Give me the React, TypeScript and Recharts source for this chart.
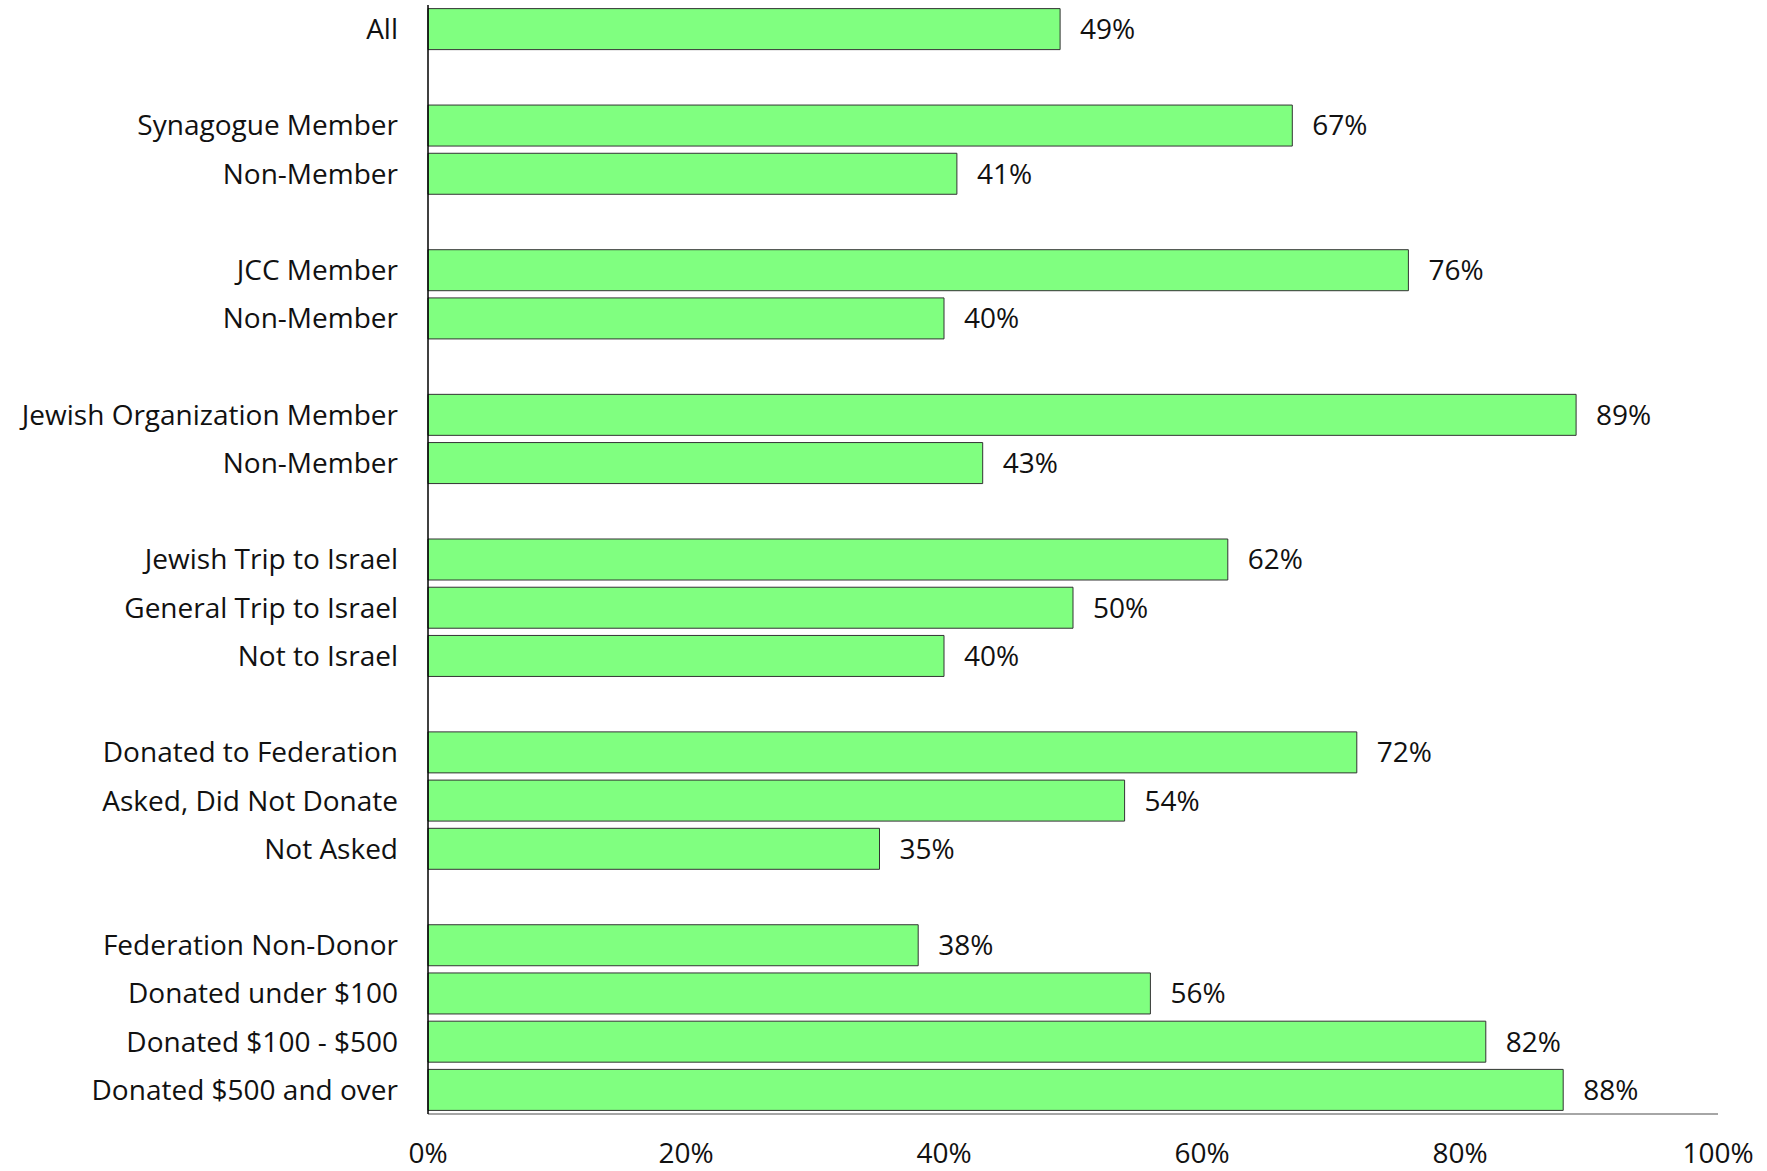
import { Bar, BarChart, LabelList, XAxis, YAxis } from "recharts";

const WIDTH = 1767;
const HEIGHT = 1171;
const BAR_FILL = "#80ff80";
const FONT = "'Open Sans', sans-serif";
const FONT_SIZE = 28;

// empty strings are spacer rows between groups
const categories = [
  "All",
  "",
  "Synagogue Member",
  "Non-Member",
  "",
  "JCC Member",
  "Non-Member",
  "",
  "Jewish Organization Member",
  "Non-Member",
  "",
  "Jewish Trip to Israel",
  "General Trip to Israel",
  "Not to Israel",
  "",
  "Donated to Federation",
  "Asked, Did Not Donate",
  "Not Asked",
  "",
  "Federation Non-Donor",
  "Donated under $100",
  "Donated $100 - $500",
  "Donated $500 and over",
];

const values: (number | null)[] = [
  49, null, 67, 41, null, 76, 40, null, 89, 43, null, 62, 50, 40, null, 72, 54, 35, null, 38, 56, 82, 88,
];

const xTicks = [0, 20, 40, 60, 80, 100];

const data = categories.map((label, i) => ({
  key: `row${i}`,
  label,
  value: values[i],
}));

export default function App() {
  return (
    <div style={{ position: "absolute", left: 0, top: 0, width: WIDTH, height: HEIGHT, background: "#fff" }}>
      <BarChart
        width={WIDTH}
        height={HEIGHT}
        layout="vertical"
        data={data}
        margin={{ top: 5, right: 49, left: 0, bottom: 0 }}
        barCategoryGap="7.5%"
      >
        <XAxis
          type="number"
          domain={[0, 100]}
          ticks={xTicks}
          tickFormatter={(v: number) => `${v}%`}
          tick={{ fontSize: FONT_SIZE, fill: "#111", fontFamily: FONT }}
          axisLine={{ stroke: "#888", strokeWidth: 1.5 }}
          tickLine={false}
          tickMargin={23}
          height={57}
        />
        <YAxis
          type="category"
          dataKey="key"
          width={428}
          interval={0}
          tickFormatter={(k: string) => data.find((d) => d.key === k)?.label ?? ""}
          tick={{ fontSize: FONT_SIZE, fill: "#111", fontFamily: FONT }}
          axisLine={{ stroke: "#000", strokeWidth: 1.5 }}
          tickLine={false}
          tickMargin={24}
        />
        <Bar dataKey="value" fill={BAR_FILL} stroke="#333" strokeWidth={1} isAnimationActive={false}>
          <LabelList
            dataKey="value"
            position="right"
            offset={20}
            formatter={(v: unknown) => (v == null ? "" : `${v}%`)}
            style={{ fontSize: FONT_SIZE, fill: "#111", fontFamily: FONT }}
          />
        </Bar>
      </BarChart>
    </div>
  );
}
